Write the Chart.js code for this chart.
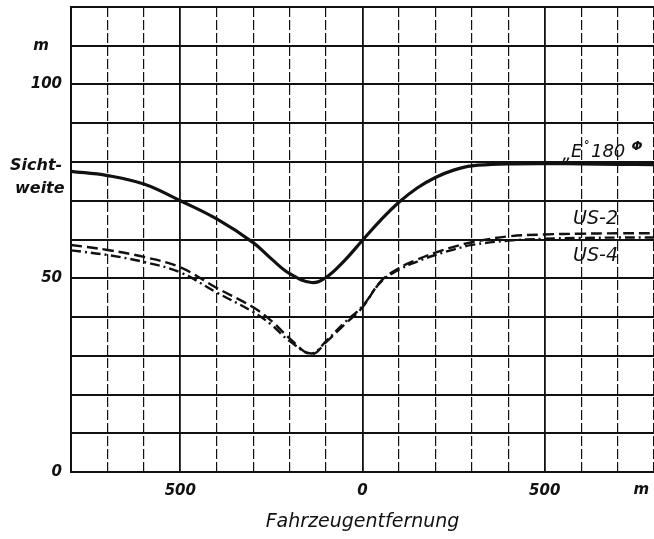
<!DOCTYPE html>
<html>
<head>
<meta charset="utf-8">
<script src="https://cdn.jsdelivr.net/npm/chart.js@4.4.1/dist/chart.umd.min.js"></script>
<style>
  html, body { margin: 0; padding: 0; background: #ffffff; }
  canvas { display: block; }
</style>
</head>
<body>
<canvas id="c" width="654" height="539"></canvas>
<script>
// Distance of vehicle (m), negative = before, positive = after
const distances = [-800, -700, -600, -500, -400, -300, -250, -200, -140, -100, -50, 0, 50, 100, 150, 200, 250, 300, 400, 500, 600, 700, 800];
// Sichtweite (m) per lamp type
const e180 = [77.6, 76.5, 74.3, 70.0, 65.3, 59.2, 55.0, 51.2, 48.9, 50.2, 54.5, 59.8, 65.0, 69.6, 73.3, 76.0, 77.9, 79.0, 79.5, 79.6, 79.5, 79.4, 79.3];
const us2  = [58.6, 57.3, 55.5, 52.8, 47.5, 42.5, 39.0, 34.5, 30.4, 33.5, 38.0, 42.5, 49.2, 52.6, 54.8, 56.6, 58.1, 59.3, 60.8, 61.3, 61.5, 61.6, 61.6];
const us4  = [57.2, 56.0, 54.2, 51.5, 46.3, 41.3, 38.0, 33.8, 30.6, 33.8, 38.5, 42.8, 49.0, 52.2, 54.3, 56.0, 57.4, 58.6, 59.7, 60.2, 60.4, 60.5, 60.5];
// Tick labels
const xTickLabels = { '-500': '500', '0': '0', '500': '500' };
const yTickLabels = { '0': '0', '50': '50', '100': '100' };
const seriesNames = ['E° 180', 'US-2', 'US-4'];

const toPts = vals => distances.map((d, i) => ({ x: d, y: vals[i] }));

const INK = '#111111';
const FONT = '"DejaVu Sans", sans-serif';

const textPlugin = {
  id: 'texts',
  afterDraw(chart) {
    const { ctx, scales: { x, y } } = chart;
    ctx.save();
    ctx.fillStyle = INK;
    ctx.textBaseline = 'middle';
    // unit labels
    ctx.font = 'italic bold 15px ' + FONT;
    ctx.textAlign = 'center';
    ctx.fillText('m', x.left - 30, y.getPixelForValue(110));
    ctx.fillText('m', x.getPixelForValue(765), x.top + 18);
    // y axis name
    ctx.textAlign = 'left';
    ctx.font = 'italic bold 16px ' + FONT;
    ctx.fillText('Sicht-', x.left - 61, y.getPixelForValue(79));
    ctx.fillText('weite', x.left - 56, y.getPixelForValue(73));
    // curve labels
    ctx.font = 'italic 18px ' + FONT;
    ctx.fillText('„', x.getPixelForValue(548), y.getPixelForValue(81.8));
    ctx.fillText('E', x.getPixelForValue(572), y.getPixelForValue(82.6));
    ctx.font = 'italic bold 11px ' + FONT;
    ctx.fillText('°', x.getPixelForValue(608), y.getPixelForValue(84.4));
    ctx.font = 'italic 18px ' + FONT;
    ctx.fillText('180', x.getPixelForValue(627), y.getPixelForValue(82.6));
    ctx.font = 'italic bold 13px ' + FONT;
    ctx.fillText('Φ', x.getPixelForValue(738), y.getPixelForValue(84.0));
    ctx.font = 'italic 19px ' + FONT;
    ctx.fillText(seriesNames[1], x.getPixelForValue(578), y.getPixelForValue(65.2));
    ctx.fillText(seriesNames[2], x.getPixelForValue(578), y.getPixelForValue(55.7));
    ctx.restore();
  }
};

new Chart(document.getElementById('c'), {
  type: 'line',
  data: {
    datasets: [
      { label: seriesNames[0], data: toPts(e180), borderColor: INK, borderWidth: 3.2, pointRadius: 0, pointHoverRadius: 0, tension: 0.4, fill: false },
      { label: seriesNames[1], data: toPts(us2), borderColor: INK, borderWidth: 2.4, borderDash: [11, 5], pointRadius: 0, pointHoverRadius: 0, tension: 0.4, fill: false },
      { label: seriesNames[2], data: toPts(us4), borderColor: INK, borderWidth: 2.4, borderDash: [10, 4, 2, 4], pointRadius: 0, pointHoverRadius: 0, tension: 0.4, fill: false }
    ]
  },
  options: {
    responsive: false,
    animation: false,
    devicePixelRatio: 1,
    layout: { autoPadding: false, padding: { top: 7, right: 0, left: 0, bottom: 0 } },
    plugins: { legend: { display: false }, tooltip: { enabled: false } },
    scales: {
      x: {
        type: 'linear',
        min: -800, max: 800,
        afterFit: s => { s.height = 67; s.paddingLeft = 0; s.paddingRight = 0; },
        ticks: {
          stepSize: 100, autoSkip: false, maxRotation: 0, padding: 10,
          color: INK, font: { family: FONT, size: 15, weight: 'bold', style: 'italic' },
          callback: v => xTickLabels[String(v)] || ''
        },
        grid: {
          drawTicks: false,
          color: INK,
          lineWidth: c => (c.tick && c.tick.value % 500 === 0) ? 1.8 : 1.2
        },
        border: {
          display: true, color: INK, width: 2,
          dash: c => (c.tick && c.tick.value % 500 !== 0) ? [10, 3] : []
        },
        title: {
          display: true, text: 'Fahrzeugentfernung', color: INK,
          font: { family: FONT, size: 19, style: 'italic' },
          padding: { top: 4, bottom: 6 }
        }
      },
      y: {
        type: 'linear',
        min: 0, max: 120,
        afterFit: s => { s.width = 71; s.paddingTop = 0; s.paddingBottom = 0; },
        ticks: {
          stepSize: 10, autoSkip: false, padding: 9,
          color: INK, font: { family: FONT, size: 15, weight: 'bold', style: 'italic' },
          callback: v => yTickLabels[String(v)] || ''
        },
        grid: { drawTicks: false, color: INK, lineWidth: 2 },
        border: { display: true, color: INK, width: 2 }
      }
    }
  },
  plugins: [textPlugin]
});
</script>
</body>
</html>
